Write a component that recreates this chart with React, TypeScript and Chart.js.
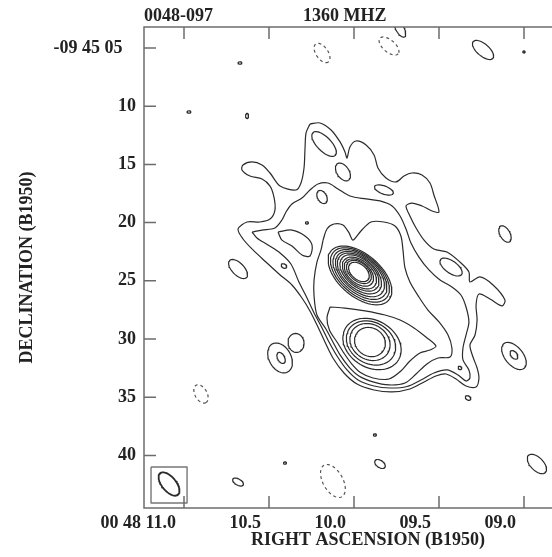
import React, { useEffect, useRef } from "react";
import { Chart, registerables } from "chart.js";

Chart.register(...registerables);

// ---- axes (RA in seconds of time, Dec in arcsec below -09 45 00) ----
const RA_TICKS = [11.0, 10.5, 10.0, 9.5, 9.0];
const RA_TICK_LABELS = ["00 48 11.0", "10.5", "10.0", "09.5", "09.0"];
const DEC_TICKS = [5, 10, 15, 20, 25, 30, 35, 40];
const DEC_TICK_LABELS = ["-09 45 05   ", "10", "15", "20", "25", "30", "35", "40"];
const RA_RANGE = [8.6, 11.2353];
const DEC_RANGE = [3.196, 44.52];
const SOURCE_NAME = "0048-097";
const FREQUENCY = "1360 MHZ";
const X_TITLE = "RIGHT ASCENSION (B1950)";
const Y_TITLE = "DECLINATION (B1950)";

// ---- traced irregular contours: [RA s, Dec arcsec] ----
const CONTOUR_LOWEST = [
  [10.259, 11.53], [10.2, 11.44], [10.135, 12.04], [10.082, 13.07], [10.053, 13.93], [10.041, 14.45],
  [10.024, 13.51], [9.988, 12.99], [9.929, 13.33], [9.882, 14.19], [9.859, 15.31], [9.812, 16.17],
  [9.753, 16.51], [9.706, 16.0], [9.659, 15.74], [9.6, 15.91], [9.553, 16.6], [9.53, 17.63],
  [9.5, 19.09], [9.541, 19.0], [9.6, 18.57], [9.659, 18.32], [9.694, 18.57], [9.671, 19.43],
  [9.635, 20.46], [9.588, 21.5], [9.53, 22.27], [9.453, 22.53], [9.377, 23.39], [9.324, 24.24],
  [9.318, 25.1], [9.259, 24.67], [9.182, 25.36], [9.112, 26.65], [9.129, 27.16], [9.2, 26.56],
  [9.265, 26.13], [9.282, 27.08], [9.276, 28.37], [9.288, 29.66], [9.318, 30.52], [9.3, 31.55],
  [9.276, 32.49], [9.265, 33.35], [9.282, 34.12], [9.341, 34.04], [9.4, 33.44], [9.459, 33.01],
  [9.518, 33.18], [9.588, 33.69], [9.671, 34.3], [9.776, 34.55], [9.882, 34.38], [9.982, 33.87],
  [10.059, 32.92], [10.124, 31.63], [10.171, 30.26], [10.212, 28.97], [10.259, 27.59], [10.306, 26.48],
  [10.365, 25.36], [10.441, 24.42], [10.518, 23.39], [10.594, 22.35], [10.653, 21.41], [10.682, 20.55],
  [10.629, 19.95], [10.553, 19.95], [10.494, 19.69], [10.465, 18.92], [10.471, 17.8], [10.494, 16.86],
  [10.541, 16.25], [10.612, 16.0], [10.659, 15.48], [10.653, 15.05], [10.6, 14.79], [10.541, 15.05],
  [10.494, 15.74], [10.435, 16.86], [10.341, 17.2], [10.312, 16.6], [10.294, 15.31], [10.288, 13.59],
  [10.282, 12.3], [10.259, 11.53],
];
const CONTOUR_SECOND = [
  [10.6, 20.81], [10.541, 20.64], [10.465, 20.46], [10.424, 19.78], [10.4, 19.09], [10.365, 18.4],
  [10.306, 17.89], [10.259, 17.2], [10.212, 16.68], [10.153, 16.6], [10.094, 17.11], [10.024, 17.72],
  [9.929, 17.97], [9.847, 18.14], [9.776, 18.57], [9.729, 19.43], [9.694, 20.55], [9.665, 21.75],
  [9.618, 22.96], [9.559, 24.07], [9.494, 24.93], [9.424, 25.53], [9.371, 26.22], [9.341, 27.25],
  [9.324, 28.54], [9.341, 29.66], [9.359, 30.77], [9.359, 31.8], [9.324, 32.66], [9.318, 33.35],
  [9.341, 33.61], [9.388, 33.09], [9.453, 32.66], [9.53, 32.92], [9.606, 33.52], [9.688, 34.08],
  [9.788, 34.21], [9.882, 34.04], [9.976, 33.52], [10.041, 32.66], [10.1, 31.46], [10.147, 30.26],
  [10.188, 29.05], [10.235, 27.77], [10.282, 26.31], [10.324, 25.1], [10.371, 23.56], [10.435, 22.61],
  [10.506, 21.92], [10.571, 21.32], [10.6, 20.81],
];
const CONTOUR_THIRD = [
  [10.182, 21.5], [10.159, 20.55], [10.118, 20.12], [10.065, 20.21], [10.029, 20.89], [10.006, 21.5],
  [9.959, 20.72], [9.9, 19.95], [9.824, 19.95], [9.759, 20.29], [9.724, 21.15], [9.712, 22.35],
  [9.7, 23.9], [9.671, 25.1], [9.618, 26.39], [9.565, 27.51], [9.5, 28.54], [9.447, 29.66],
  [9.424, 30.77], [9.435, 31.55], [9.506, 31.63], [9.571, 32.14], [9.635, 33.01], [9.7, 33.78],
  [9.794, 33.95], [9.888, 33.69], [9.971, 33.18], [10.029, 32.41], [10.082, 31.37], [10.124, 30.26],
  [10.165, 29.14], [10.218, 27.94], [10.235, 26.31], [10.235, 24.93], [10.218, 23.39], [10.194, 22.35],
  [10.182, 21.5],
];
const CONTOUR_SOUTH_PEAK = [
  [10.141, 27.25], [10.053, 27.34], [9.935, 27.59], [9.818, 27.94], [9.729, 28.37], [9.647, 29.05],
  [9.577, 29.83], [9.518, 30.6], [9.553, 30.95], [9.612, 31.2], [9.671, 31.89], [9.724, 32.75],
  [9.794, 33.44], [9.888, 33.35], [9.962, 32.88], [10.014, 32.13], [10.059, 31.22], [10.1, 30.26],
  [10.144, 29.25], [10.159, 28.2], [10.141, 27.25],
];
const CONTOUR_WEST_ISLAND = [
  [10.447, 20.81], [10.365, 20.64], [10.288, 21.15], [10.247, 21.92], [10.259, 22.87],
  [10.306, 22.78], [10.365, 22.01], [10.424, 21.5], [10.447, 20.81],
];

// ---- elliptical contours: [RA s, Dec arcsec, semi-major ", semi-minor ", tilt deg] ----
const CORE_RINGS = [
  [9.965, 24.54, 3.28, 1.82, 40], [9.965, 24.5, 3.03, 1.69, 40], [9.965, 24.46, 2.77, 1.56, 40],
  [9.965, 24.42, 2.51, 1.43, 40], [9.968, 24.37, 2.25, 1.3, 40], [9.968, 24.33, 1.99, 1.17, 40],
  [9.968, 24.33, 1.73, 1.04, 40], [9.971, 24.29, 1.47, 0.91, 40], [9.971, 24.24, 1.25, 0.78, 40],
  [9.971, 24.24, 1.04, 0.65, 40],
];
const SOUTH_RINGS = [
  [9.894, 30.43, 2.68, 2.03, 30], [9.9, 30.34, 2.25, 1.77, 30],
  [9.906, 30.26, 1.82, 1.51, 30], [9.906, 30.26, 1.38, 1.21, 30],
];
const POSITIVE_ISLANDS = [
  [10.176, 13.25, 1.38, 0.61, 45], [10.065, 15.65, 0.86, 0.52, 55], [9.824, 17.2, 0.86, 0.35, 20],
  [9.429, 23.82, 1.12, 0.52, 35], [10.188, 17.8, 0.61, 0.39, 60], [9.377, 32.49, 0.17, 0.13, 30],
  [10.412, 23.73, 0.26, 0.17, 30], [10.277, 20.03, 0.13, 0.1, 0], [9.729, 3.37, 0.78, 0.35, 60],
  [9.241, 5.17, 1.12, 0.52, 40], [9.0, 5.34, 0.1, 0.09, 0], [10.671, 6.29, 0.17, 0.1, 0],
  [10.971, 10.5, 0.17, 0.1, 0], [10.629, 10.84, 0.22, 0.13, 90], [10.682, 23.99, 1.04, 0.52, 45],
  [10.435, 31.63, 1.38, 0.95, 60], [10.429, 31.63, 0.52, 0.3, 60], [10.341, 30.34, 0.82, 0.69, 80],
  [9.877, 38.25, 0.13, 0.1, 0], [10.406, 40.66, 0.13, 0.1, 0], [10.682, 42.29, 0.52, 0.26, 30],
  [9.847, 40.74, 0.52, 0.3, 35], [8.924, 40.74, 1.04, 0.56, 45], [9.112, 20.98, 0.78, 0.43, 60],
  [9.059, 31.46, 1.38, 0.78, 50], [9.059, 31.37, 0.43, 0.26, 50], [9.329, 35.07, 0.26, 0.17, 30],
];
const NEGATIVE_ISLANDS = [
  [10.188, 5.43, 0.95, 0.52, 55], [9.794, 4.83, 1.04, 0.52, 40],
  [10.9, 34.72, 0.86, 0.52, 60], [10.124, 42.2, 1.56, 0.86, 60],
];
const BEAM = [11.088, 42.46, 1.21, 0.61, 50];
const BEAM_BOX = [[11.194, 41.0], [10.982, 41.0], [10.982, 44.09], [11.194, 44.09], [11.194, 41.0]];

const ARCSEC_PER_RA_SEC = 14.78; // 15 * cos(dec)
const INK = "#2b2b2b";
const FONT = { family: "'Liberation Serif', 'Times New Roman', serif", size: 18, weight: "bold" as const };

function ellipse(e: number[], n = 64) {
  const [ra, dec, a, b, tilt] = e;
  const th = (tilt * Math.PI) / 180;
  const pts: { x: number; y: number }[] = [];
  for (let i = 0; i <= n; i++) {
    const t = (i / n) * 2 * Math.PI;
    const u = a * Math.cos(t);
    const v = b * Math.sin(t);
    const right = u * Math.cos(th) - v * Math.sin(th);
    const down = u * Math.sin(th) + v * Math.cos(th);
    pts.push({ x: ra - right / ARCSEC_PER_RA_SEC, y: dec + down });
  }
  return pts;
}
const xy = (arr: number[][]) => arr.map(([x, y]) => ({ x, y }));

function lineSet(data: { x: number; y: number }[], opts: any = {}) {
  return {
    data,
    showLine: true,
    pointRadius: 0,
    pointHoverRadius: 0,
    borderColor: INK,
    borderWidth: 1.2,
    borderJoinStyle: "round",
    fill: false,
    tension: 0,
    clip: 0,
    ...opts,
  };
}

const framePlugin = {
  id: "frameAndHeader",
  afterDatasetsDraw(chart: any) {
    const { ctx, chartArea, scales } = chart;
    const { left, right, top, bottom } = chartArea;
    ctx.save();
    ctx.strokeStyle = "#6c6c6c";
    ctx.lineWidth = 1.5;
    ctx.strokeRect(left, top, right - left, bottom - top);
    ctx.beginPath();
    scales.x.ticks.forEach((t: any) => {
      const px = scales.x.getPixelForValue(t.value);
      ctx.moveTo(px, bottom);
      ctx.lineTo(px, bottom - 12);
      ctx.moveTo(px, top);
      ctx.lineTo(px, top + 12);
    });
    scales.y.ticks.forEach((t: any) => {
      const py = scales.y.getPixelForValue(t.value);
      ctx.moveTo(left, py);
      ctx.lineTo(left + 12, py);
      ctx.moveTo(right, py);
      ctx.lineTo(right - 12, py);
    });
    ctx.stroke();
    ctx.fillStyle = "#222";
    ctx.font = `bold ${FONT.size}px ${FONT.family}`;
    ctx.textBaseline = "middle";
    ctx.textAlign = "left";
    ctx.fillText(SOURCE_NAME, left, 16);
    ctx.fillText(FREQUENCY, left + 159, 16);
    ctx.restore();
  },
};

export default function App() {
  const ref = useRef<HTMLCanvasElement>(null);
  useEffect(() => {
    const canvas = ref.current;
    if (!canvas) return;
    const datasets: any[] = [
      lineSet(xy(CONTOUR_LOWEST), { tension: 0.3 }),
      lineSet(xy(CONTOUR_SECOND), { tension: 0.3 }),
      lineSet(xy(CONTOUR_THIRD), { tension: 0.3 }),
      lineSet(xy(CONTOUR_SOUTH_PEAK), { tension: 0.3 }),
      lineSet(xy(CONTOUR_WEST_ISLAND), { tension: 0.3 }),
      ...CORE_RINGS.map((e) => lineSet(ellipse(e))),
      ...SOUTH_RINGS.map((e) => lineSet(ellipse(e))),
      ...POSITIVE_ISLANDS.map((e) => lineSet(ellipse(e, 40))),
      ...NEGATIVE_ISLANDS.map((e) => lineSet(ellipse(e, 48), { borderDash: [3, 3], borderColor: "#555" })),
      lineSet(ellipse(BEAM), { borderWidth: 1.8 }),
      lineSet(xy(BEAM_BOX), { borderColor: "#777", borderWidth: 1.4 }),
    ];
    const chart = new Chart(canvas, {
      type: "scatter",
      data: { datasets },
      options: {
        animation: false,
        responsive: false,
        devicePixelRatio: 1,
        events: [],
        layout: { padding: { left: 0, right: 8, top: 27, bottom: 0 } },
        plugins: { legend: { display: false }, tooltip: { enabled: false } },
        scales: {
          x: {
            type: "linear",
            reverse: true,
            min: RA_RANGE[0],
            max: RA_RANGE[1],
            afterBuildTicks: (s: any) => {
              s.ticks = RA_TICKS.map((v) => ({ value: v }));
            },
            afterFit: (s: any) => {
              s.height = 49;
            },
            grid: { display: false, drawTicks: false },
            border: { display: false },
            ticks: {
              autoSkip: false,
              maxRotation: 0,
              minRotation: 0,
              align: "end",
              labelOffset: -8,
              padding: 5,
              color: "#222",
              font: FONT,
              callback: (v: any) => {
                const i = RA_TICKS.findIndex((t) => Math.abs(t - Number(v)) < 1e-6);
                return i >= 0 ? RA_TICK_LABELS[i] : "";
              },
            },
            title: { display: true, text: X_TITLE, color: "#222", font: FONT, padding: { top: 0, bottom: 6 } },
          },
          y: {
            type: "linear",
            reverse: true,
            min: DEC_RANGE[0],
            max: DEC_RANGE[1],
            afterBuildTicks: (s: any) => {
              s.ticks = DEC_TICKS.map((v) => ({ value: v }));
            },
            afterFit: (s: any) => {
              s.width = 144;
            },
            grid: { display: false, drawTicks: false },
            border: { display: false },
            ticks: {
              autoSkip: false,
              padding: 8,
              color: "#222",
              font: FONT,
              callback: (v: any) => {
                const i = DEC_TICKS.findIndex((t) => Math.abs(t - Number(v)) < 1e-6);
                return i >= 0 ? DEC_TICK_LABELS[i] : "";
              },
            },
            title: { display: true, text: Y_TITLE, color: "#222", font: FONT, padding: { top: 17, bottom: 0 } },
          },
        },
      },
      plugins: [framePlugin],
    });
    return () => chart.destroy();
  }, []);

  return (
    <div
      style={{
        position: "absolute",
        left: 0,
        top: 0,
        width: 552,
        height: 557,
        overflow: "hidden",
        background: "#fff",
      }}
    >
      <canvas ref={ref} width={600} height={557} style={{ display: "block" }} />
    </div>
  );
}
